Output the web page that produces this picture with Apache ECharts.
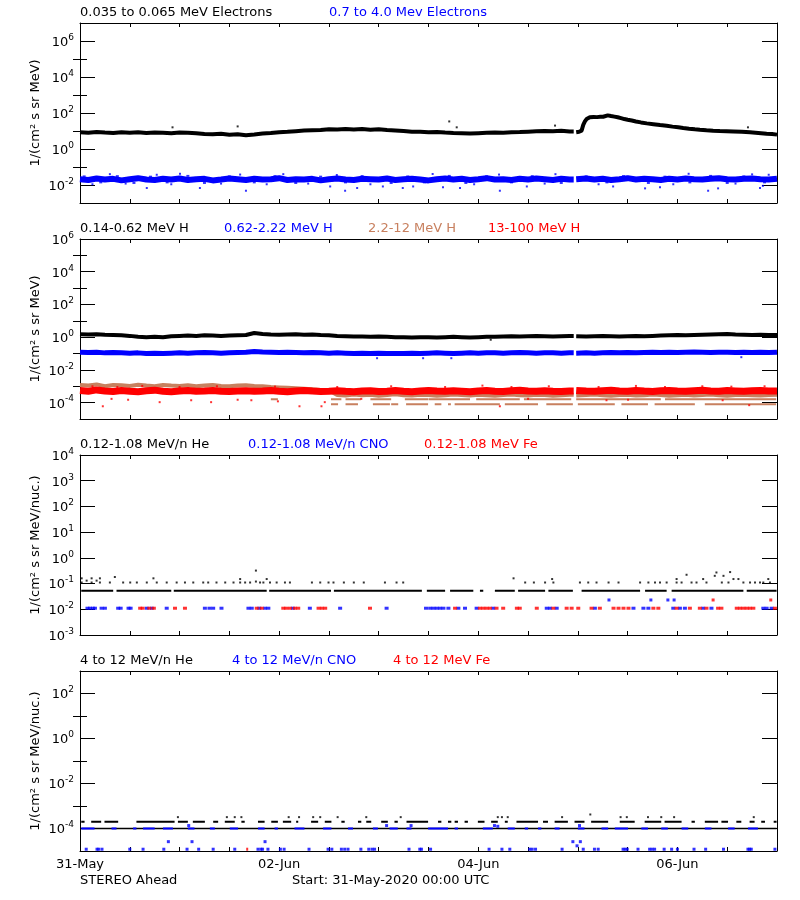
<!DOCTYPE html>
<html><head><meta charset="utf-8">
<script src="https://cdn.jsdelivr.net/npm/echarts@6/dist/echarts.min.js"></script>
<style>html,body{margin:0;padding:0;background:#fff}#c{width:800px;height:900px}</style>
</head><body><div id="c"></div><script>
// ---------------- DATA (time in hours since 31-May-2020 00:00 UTC) ----------------
const xLabelHours = [0, 48, 96, 144];
const xLabelText = ['31-May', '02-Jun', '04-Jun', '06-Jun'];
const dataGap = [119.0, 119.6];

// Panel 1: electrons. 2-hourly values up to t=118, then the event (t, value)
const elecLowBase = [8.5,8.0,8.8,8.2,7.8,8.6,8.0,8.4,7.7,8.2,8.0,7.6,8.3,7.9,7.5,
  6.8,6.5,7.0,6.2,6.6,5.8,6.4,
  7.2,7.8,8.5,9.0,9.8,10.5,11.0,
  11.5,12.5,12.0,13.0,12.2,12.8,11.8,12.5,11.5,10.8,
  10.0,9.2,9.0,8.6,8.8,8.2,7.8,7.5,7.2,
  7.6,7.9,8.2,8.0,8.5,8.8,9.2,9.6,10.0,9.8,10.2,9.5];
const elecLowEvent = [[119.7,8.5],[120.3,9],[120.9,10.5],[121.3,22],[121.7,34],[122.1,46],[122.9,58],[123.8,60],[124.6,59],
  [125.4,61],[126.1,62],[126.5,78],[127.2,74],[128.0,68],[128.8,63],[129.6,58],[130.4,52],[131.2,46],[132.0,42],[133.0,38],
  [134.0,34],[135.2,30],[136.6,26.5],[138.2,24],[139.8,21.5],[141.4,19.7],[142.8,17.5],[144.2,16],[145.4,14.7],[146.8,13.5],
  [148.2,12.5],[149.4,11.8],[151,11],[152.6,10.4],[154.2,10],[155.8,9.8],[157.5,9.5],[159.5,9],[161.5,8.4],[163.5,7.8],
  [165.5,7.1],[166.8,6.8],[168,6.3]];
const elecLowOut = [[22.3,16],[38,18],[89,34],[90.8,16],[114.5,20],[161,16]];
const elecHigh = [0.021,0.019,0.023,0.020,0.022,0.018,0.021,0.024,0.020,0.019,
  0.022,0.020,0.023,0.019,0.021,0.022,0.018,0.020,0.023,0.021,
  0.019,0.022,0.020,0.021,0.024,0.019,0.021,0.020,0.022,0.018,
  0.021,0.023,0.020,0.019,0.022,0.021,0.020,0.023,0.019,0.021,
  0.022,0.020,0.018,0.021,0.023,0.020,0.022,0.019,0.021,0.024,
  0.020,0.021,0.019,0.022,0.020,0.023,0.021,0.019,0.022,0.020,
  0.021,0.023,0.020,0.022,0.019,0.021,0.024,0.020,0.022,0.021,
  0.019,0.022,0.020,0.023,0.021,0.020,0.022,0.024,0.021,0.020,
  0.022,0.023,0.021,0.020,0.022];
const elecHighEdge = [[1,0.03],[5,0.014],[9,0.031],[13,0.013],[17,0.029],[21,0.014],[26,0.032],[30,0.013],[36,0.03],[42,0.014],
  [47,0.031],[52,0.013],[58,0.029],[64,0.014],[68,0.031],[75,0.013],[79,0.03],[83,0.014],[89,0.032],[93,0.013],[98,0.03],
  [104,0.014],[109,0.031],[116,0.013],[122,0.03],[127,0.014],[131,0.031],[137,0.013],[141,0.029],[147,0.014],[152,0.032],
  [156,0.013],[160,0.03],[165,0.014]];
const elecHighLow = [[3,0.011],[11,0.012],[16.1,0.0068],[22,0.011],[28.9,0.0068],[34,0.012],[40,0.0048],[45,0.011],[55,0.012],
  [60.3,0.0083],[63.9,0.0048],[66.8,0.0068],[70,0.011],[73,0.0083],[77.8,0.0068],[80.3,0.0083],[87.5,0.0075],[91.6,0.0068],
  [95,0.011],[101.2,0.0048],[107.7,0.0083],[112,0.012],[125,0.011],[128.5,0.0083],[136.2,0.0065],[139.8,0.0075],[143,0.011],
  [151.4,0.0048],[153.8,0.0065],[158,0.012],[163.9,0.0068],[164.6,0.009]];
const elecHighUp = [[7.2,0.04],[18.5,0.037],[24.1,0.042],[38.6,0.038],[49,0.04],[61.9,0.036],[85,0.041],[101,0.038],
  [114.6,0.04],[146.7,0.042],[162,0.039],[166,0.037]];

// Panel 2: protons (2-hourly)
const hA = [1.5,1.45,1.5,1.4,1.35,1.3,1.2,
  1.05,1.0,1.05,1.0,
  1.15,1.2,1.25,1.2,1.3,1.25,1.2,1.25,1.3,1.35,
  1.8,1.55,
  1.45,1.4,1.45,1.5,1.4,1.45,1.35,1.3,
  1.2,1.15,1.1,1.1,1.05,1.1,1.05,1.0,
  1.0,0.95,1.0,1.0,0.95,1.0,1.05,1.0,0.95,1.0,1.05,1.05,
  1.1,1.15,1.1,1.15,1.2,1.15,1.1,1.15,1.2,
  1.15,1.1,1.15,1.2,1.15,1.1,1.15,1.2,1.15,1.2,1.25,
  1.3,1.35,1.3,1.35,1.4,1.45,1.5,1.55,1.45,1.4,1.35,1.4,1.35,1.35];
const hB = [0.12,0.115,0.12,0.11,0.115,0.11,0.105,0.11,0.1,0.105,0.1,
  0.105,0.11,0.105,0.11,0.115,0.11,0.105,0.11,0.115,0.12,
  0.135,0.125,
  0.12,0.115,0.12,0.115,0.11,0.115,0.11,0.105,0.11,0.105,0.1,0.105,0.1,0.105,0.1,0.1,
  0.1,0.105,0.1,0.105,0.11,0.105,0.1,0.105,0.11,0.105,0.11,0.11,0.105,0.11,0.115,0.11,0.105,0.11,0.11,0.105,0.11,
  0.105,0.11,0.105,0.11,0.115,0.11,0.115,0.11,0.115,0.12,0.115,0.12,0.115,0.12,0.125,0.12,0.115,0.12,0.12,0.115,0.12,0.115,0.12,0.115,0.12];
const hBOut = [[71.6,0.052],[82.7,0.052],[89.5,0.052],[159.4,0.06]];
const hAOut = [[99,0.7]];
const hC = [1.2e-3,1.1e-3,1.3e-3,1.0e-3,1.2e-3,1.15e-3,1.05e-3,1.25e-3,1.1e-3,1.0e-3,
  1.2e-3,1.1e-3,1.05e-3,1.15e-3,1.0e-3,1.1e-3,1.2e-3,1.05e-3,1.0e-3,1.1e-3,1.15e-3,1.05e-3,1.0e-3,
  9e-4,8.5e-4,8e-4,7.5e-4,7e-4,6.5e-4,6e-4,5.5e-4,
  2.9e-4,2.7e-4,3.1e-4,2.8e-4,3.0e-4,2.6e-4,2.9e-4,3.2e-4,2.8e-4,2.7e-4,
  3.0e-4,2.9e-4,2.6e-4,2.8e-4,3.1e-4,2.9e-4,2.7e-4,3.0e-4,2.8e-4,2.6e-4,
  2.9e-4,3.1e-4,2.8e-4,2.7e-4,3.0e-4,2.9e-4,2.6e-4,2.8e-4,3.0e-4,2.7e-4,
  2.9e-4,3.1e-4,2.8e-4,2.6e-4,2.9e-4,3.0e-4,2.7e-4,2.8e-4,3.1e-4,2.9e-4,
  2.6e-4,2.8e-4,3.0e-4,2.7e-4,2.9e-4,3.1e-4,2.8e-4,2.6e-4,2.9e-4,3.0e-4,
  2.8e-4,2.7e-4,2.9e-4,3.0e-4];
const hCMidLevel = 1.6e-4;
const hCMidSegs = [[46,47.7],[60.5,63],[64,67.7],[70,75],[78.3,83.9],[84,94],[95.5,106],[107,118.4],[119.6,140],[141,167.8]];
const hCLowLevel = 8e-5;
const hCLowSegs = [[60.5,62.2],[64,67],[70.6,74.7],[75,76.7],[78.6,83.9],[85.5,87.1],[88.7,89.4],[90.3,101.2],[102.4,110.4],
  [112.4,118.8],[120,128.9],[130.5,136.9],[138.5,148.2],[150.6,167.8]];
const hD = [5.5e-4,5.0e-4,6.0e-4,5.2e-4,4.8e-4,5.5e-4,5.0e-4,4.6e-4,5.3e-4,5.8e-4,
  5.0e-4,4.7e-4,5.2e-4,5.5e-4,4.9e-4,5.1e-4,5.6e-4,5.0e-4,4.8e-4,5.2e-4,
  5.4e-4,4.9e-4,5.1e-4,5.5e-4,5.0e-4,4.7e-4,5.2e-4,5.6e-4,5.1e-4,4.8e-4,
  5.0e-4,5.4e-4,4.9e-4,4.6e-4,5.1e-4,5.3e-4,4.8e-4,5.0e-4,5.5e-4,5.0e-4,
  4.7e-4,5.2e-4,5.6e-4,5.1e-4,4.9e-4,5.3e-4,5.0e-4,4.6e-4,5.2e-4,5.5e-4,
  5.0e-4,4.8e-4,5.3e-4,5.7e-4,5.1e-4,4.9e-4,5.4e-4,5.0e-4,4.8e-4,5.2e-4,
  5.6e-4,5.1e-4,4.9e-4,5.4e-4,5.8e-4,5.2e-4,5.0e-4,5.5e-4,5.1e-4,4.8e-4,
  5.3e-4,5.6e-4,5.2e-4,4.9e-4,5.4e-4,5.7e-4,5.1e-4,5.0e-4,5.5e-4,5.2e-4,
  4.9e-4,5.3e-4,5.6e-4,5.1e-4,5.2e-4];
const hDLow = [[5.5,6e-5],[7.6,1.7e-4],[11.6,1.5e-4],[19.2,1.07e-4],[26.8,1.4e-4],[31.6,1.07e-4],[38,1.5e-4],[41.3,1.4e-4],
  [47.7,1.2e-4],[52.9,6e-5],[58.2,6e-5],[59,1.07e-4],[67.8,1.7e-4],[101.2,6e-5],[108,1.7e-4],[126.9,1.4e-4],[132.1,1.5e-4],
  [154.9,1.4e-4],[161.3,7e-5]];
const hDUp = [[3,1e-3],[9,9e-4],[15,1.05e-3],[24,9e-4],[33,1e-3],[47,9.5e-4],[62,9e-4],[75,1e-3],[88,9e-4],[97,1.1e-3],
  [104,9e-4],[113,1e-3],[125,9e-4],[134,1.05e-3],[141,9e-4],[150,1e-3],[157,9.5e-4],[165,1e-3]];

// Panel 3: 0.12-1.08 MeV/n heavy ions
const he3Level = 0.053;
const he3Segs = [[0.3,8],[8.8,22],[22.6,45],[45.6,60.5],[61.2,82.4],[83.6,88],[89.2,94.8],[96.4,97.2],[100,104.8],
  [105.6,112.1],[112.9,118.8],[120.9,135],[136.2,141.4],[142.6,159.9],[160.7,167.9]];
const he3Dots = [[0.4,0.11],[0.4,0.16],[1.6,0.13],[2.8,0.16],[2.8,0.11],[4.0,0.13],[4.8,0.16],[4.8,0.11],[7.2,0.11],[8.4,0.18],
  [10.4,0.11],[12.1,0.11],[13.7,0.11],[16.1,0.11],[17.7,0.16],[18.5,0.11],[20.9,0.11],[23.3,0.11],[25.3,0.11],[27.3,0.11],
  [29.7,0.11],[30.9,0.11],[32.9,0.11],[35.0,0.11],[37.0,0.11],[38.6,0.11],[38.6,0.15],[39.8,0.11],[41.0,0.11],[42.4,0.32],
  [42.4,0.12],[43.4,0.11],[44.2,0.11],[45.0,0.15],[45.8,0.11],[47.4,0.11],[49.4,0.11],[50.6,0.11],[55.9,0.11],[57.9,0.11],
  [59.9,0.11],[61.1,0.11],[63.6,0.11],[66.0,0.11],[68.4,0.11],[73.5,0.11],[76.3,0.11],[77.9,0.11],[104.5,0.16],[107.3,0.11],
  [109.4,0.11],[112.1,0.11],[113.8,0.15],[114.1,0.11],[120.5,0.11],[122.5,0.11],[124.5,0.11],[127.4,0.11],[129.8,0.11],
  [135.0,0.11],[137.0,0.11],[138.6,0.11],[139.8,0.11],[141.4,0.11],[143.8,0.15],[143.8,0.11],[145.0,0.11],[146.2,0.22],
  [147.4,0.11],[148.6,0.11],[150.2,0.15],[151.0,0.11],[153.0,0.2],[153.4,0.27],[154.7,0.11],[155.1,0.2],[156.3,0.11],
  [156.7,0.28],[157.5,0.15],[158.7,0.15],[159.9,0.11],[161.5,0.11],[162.7,0.11],[163.9,0.11],[164.7,0.11],[165.9,0.15],[166.3,0.11]];
const cno3Level = 0.011;
const cno3Times = [1.8,2.4,3.1,3.6,5.2,6.0,9.2,9.8,11.7,12.2,16.1,17.3,20.9,30.1,31.2,32.1,34.1,40.6,41.4,43.2,44.6,45.4,51.3,
  55.4,62.7,73.9,83.4,84.4,85.2,86.0,86.8,87.6,88.8,91.2,92.8,95.6,99.6,112.5,113.3,114.9,124.1,133.4,135.8,137.0,143.0,
  144.6,145.8,150.2,152.2,164.7,165.5,166.7];
const cno3Up = [[127.5,0.023],[137.6,0.023],[141.7,0.023],[143.2,0.023]];
const fe3Level = 0.011;
const fe3Times = [14.5,15.1,16.7,17.8,22.9,25.3,42.6,43.8,49.0,49.7,50.6,51.8,52.6,57.5,58.3,59.1,69.9,90.4,96.4,97.2,98.0,
  98.8,100.4,102.0,105.3,106.0,110.1,114.1,117.3,118.5,120.1,123.3,125.3,128.6,129.8,131.0,132.2,138.2,139.4,143.8,147.0,
  149.4,151.0,153.8,154.6,158.3,159.1,159.9,160.7,161.5,162.3,167.5];
const fe3Up = [[152.6,0.023],[166.5,0.023]];

// Panel 4: 4-12 MeV/n heavy ions
const he4FloorLevel = 1e-4;
const he4FloorSegs = [[0.3,167.9]];
const he4Level = 2e-4;
const he4Segs = [[0.3,1.1],[2.7,5.1],[5.9,9.2],[13.6,22.8],[23.6,26.0],[27.2,30.1],[32.1,33.3],[34.9,37.3],[38.9,39.7],
  [42.9,44.5],[46.1,47.7],[48.9,50.9],[52.1,52.6],[55.7,57.4],[59.0,60.6],[63.0,63.8],[67.0,67.8],[69.0,70.2],[72.6,74.2],
  [75.8,76.6],[78.7,83.9],[86.3,87.1],[88.7,89.5],[90.3,91.1],[92.7,93.5],[95.9,97.5],[99.1,100.7],[102.4,103.1],
  [105.2,110.4],[111.6,112.8],[114.4,117.6],[119.2,121.6],[123.2,127.3],[130.1,133.7],[136.1,140.1],[140.9,145.0],
  [147.4,148.2],[150.6,153.8],[154.6,156.2],[158.2,159.4],[161.4,162.6],[164.2,165.1],[167.2,167.9]];
const he4Dots = [[23.6,3.2e-4],[35.4,3.2e-4],[37.3,3.2e-4],[38.9,3.2e-4],[50.3,3.2e-4],[52.8,3.2e-4],[56.2,3.2e-4],
  [57.9,3.2e-4],[62.1,3.2e-4],[69.0,3.2e-4],[77.3,3.2e-4],[100.7,3.2e-4],[101.7,3.2e-4],[103.1,3.2e-4],[116.2,3.2e-4],
  [123.0,4.2e-4],[130.3,3.2e-4],[131.8,3.2e-4],[136.9,3.2e-4],[140.1,3.2e-4],[143.2,3.2e-4],[162.4,3.2e-4]];
const cno4Level = 1e-4;
const cno4Segs = [[0.3,3.5],[7.6,8.8],[12.8,13.6],[15.2,18.0],[20.0,22.4],[26.0,27.6],[31.3,32.5],[36.1,38.1],[42.9,44.5],
  [46.9,47.7],[51.7,54.1],[58.6,60.6],[64.6,65.8],[70.6,71.8],[74.6,76.6],[78.7,79.9],[83.9,88.7],[90.3,91.1],[97.1,99.5],
  [103.1,104.8],[107.2,108.0],[110.4,111.2],[114.4,115.6],[120.0,121.6],[125.7,127.3],[128.9,132.1],[135.3,136.9],
  [140.1,141.7],[145.0,146.6],[150.6,152.2],[156.2,157.8],[161.0,163.4]];
const cno4Low = [1.5,4.1,4.5,5.3,12.0,15.2,20.2,25.8,28.6,32.1,37.3,42.9,43.6,44.0,45.3,48.3,49.2,55.2,59.8,60.7,63.0,63.8,
  64.6,67.7,69.6,70.4,71.0,79.3,81.9,82.3,84.5,98.6,101.7,103.6,108.4,109.0,109.8,116.2,121.3,124.0,124.9,130.9,131.4,
  131.9,134.5,137.3,137.9,138.5,140.8,142.6,144.0,148.0,150.8,155.1,161.0,161.4,161.8,167.5];
const cno4LowLevel = 1.2e-5;
const cno4Other = [[21.3,2.6e-5],[27.0,2.6e-5],[44.6,2.6e-5],[118.8,2.6e-5],[120.6,2.6e-5],[119.8,1.7e-5],
  [26.2,1.35e-4],[73.9,1.35e-4],[79.8,1.35e-4],[99.9,1.35e-4],[100.7,1.25e-4],[120.4,1.35e-4]];
const fe4Pts = [[40.3,1.2e-5]];

// ---------------- helpers ----------------
const F = 'DejaVu Sans';
const BROWN = '#c8805f';
const grid2h = vals => vals.map((v, i) => [2 * i, v]);
function withGap(pairs, g) {
  const out = []; let done = false;
  for (const p of pairs) {
    if (!done && p[0] > g[0]) {
      const prev = out[out.length - 1];
      out.push([g[0], prev[1]], [g[0], '-'], [g[1], p[1]]);
      done = true;
    }
    out.push(p);
  }
  return out;
}
function segs(list, v) { const out = []; list.forEach(s => out.push([s[0], v], [s[1], v], [s[1], '-'])); return out; }
const at = (ts, v) => ts.map(t => [t, v]);

function L(gi, data, color, width, z) {
  return {type: 'line', xAxisIndex: 2 * gi, yAxisIndex: 4 * gi, data, symbol: 'none', showSymbol: false,
    lineStyle: {color, width}, itemStyle: {color}, z: z || 2, silent: true, connectNulls: false};
}
function S(gi, data, color, size, z) {
  return {type: 'scatter', xAxisIndex: 2 * gi, yAxisIndex: 4 * gi, data, symbol: 'rect', symbolSize: size,
    itemStyle: {color}, z: z || 3, silent: true};
}

// axes
const rich = {b: {fontSize: 13, fontFamily: F, color: '#000', verticalAlign: 'bottom'},
  s: {fontSize: 9, fontFamily: F, color: '#000', verticalAlign: 'bottom', padding: [0, 0, 7, 0]}};
const powFmt = v => '{b|10}{s|' + Math.round(Math.log10(v)) + '}';
function yAxesFor(gi, min, max, major, minor, labeled, name) {
  const base = {gridIndex: gi, type: 'log', logBase: 10, min, max, splitLine: {show: false},
    axisLine: {show: true, onZero: false, lineStyle: {color: '#000', width: 1}}};
  const tk = (len, vals) => ({show: vals.length > 0, inside: true, length: len, customValues: vals, lineStyle: {color: '#000', width: 1}});
  return [
    Object.assign({}, base, {position: 'left', name, nameLocation: 'middle', nameGap: 38, nameRotate: 90,
      nameMoveOverlap: false,
      nameTextStyle: {fontSize: 13, fontFamily: F, color: '#000'},
      axisTick: tk(15, major), axisLabel: {show: true, customValues: labeled, formatter: powFmt, rich, margin: 6}}),
    Object.assign({}, base, {position: 'left', axisLine: {show: false}, axisTick: tk(7, minor), axisLabel: {show: false}}),
    Object.assign({}, base, {position: 'right', axisTick: tk(15, major), axisLabel: {show: false}}),
    Object.assign({}, base, {position: 'right', axisLine: {show: false}, axisTick: tk(7, minor), axisLabel: {show: false}})
  ];
}
function xAxesFor(gi, showLabels) {
  const base = {gridIndex: gi, type: 'value', min: 0, max: 168, interval: 12, splitLine: {show: false},
    axisLine: {onZero: false, lineStyle: {color: '#000', width: 1}},
    axisTick: {inside: true, length: 4, lineStyle: {color: '#000', width: 1}}};
  return [
    Object.assign({}, base, {position: 'bottom', axisLabel: showLabels ? {show: true, customValues: xLabelHours,
      formatter: v => xLabelText[xLabelHours.indexOf(v)] || '', margin: 7, fontSize: 13, fontFamily: F, color: '#000'} : {show: false}}),
    Object.assign({}, base, {position: 'top', axisLabel: {show: false}})
  ];
}

const tops = [23, 239, 455, 671];
const unitE = '1/(cm² s sr MeV)';
const unitN = '1/(cm² s sr MeV/nuc.)';
const yAxis = [].concat(
  yAxesFor(0, 1e-3, 1e7, [1e-2, 1, 1e2, 1e4, 1e6], [1e-1, 1e1, 1e3, 1e5], [1e-2, 1, 1e2, 1e4, 1e6], unitE),
  yAxesFor(1, 1e-5, 1e6, [1e-4, 1e-2, 1, 1e2, 1e4, 1e6], [1e-3, 1e-1, 1e1, 1e3, 1e5], [1e-4, 1e-2, 1, 1e2, 1e4, 1e6], unitE),
  yAxesFor(2, 1e-3, 1e4, [1e-2, 1e-1, 1, 1e1, 1e2, 1e3], [], [1e-3, 1e-2, 1e-1, 1, 1e1, 1e2, 1e3, 1e4], unitN),
  yAxesFor(3, 1e-5, 1e3, [1e-4, 1e-2, 1, 1e2], [1e-3, 1e-1, 1e1], [1e-4, 1e-2, 1, 1e2], unitN)
);
const xAxis = [].concat(xAxesFor(0, false), xAxesFor(1, false), xAxesFor(2, false), xAxesFor(3, true));

const titleTexts = [
  [80, 6, '0.035 to 0.065 MeV Electrons', '#000'], [329, 6, '0.7 to 4.0 Mev Electrons', '#0000ff'],
  [80, 222, '0.14-0.62 MeV H', '#000'], [224, 222, '0.62-2.22 MeV H', '#0000ff'], [368, 222, '2.2-12 MeV H', BROWN], [488, 222, '13-100 MeV H', '#ff0000'],
  [80, 438, '0.12-1.08 MeV/n He', '#000'], [248, 438, '0.12-1.08 MeV/n CNO', '#0000ff'], [424, 438, '0.12-1.08 MeV Fe', '#ff0000'],
  [80, 654, '4 to 12 MeV/n He', '#000'], [232, 654, '4 to 12 MeV/n CNO', '#0000ff'], [393, 654, '4 to 12 MeV Fe', '#ff0000'],
  [80, 874, 'STEREO Ahead', '#000'], [292, 874, 'Start: 31-May-2020 00:00 UTC', '#000']
];

const series = [
  // panel 1
  L(0, withGap(grid2h(elecLowBase).concat(elecLowEvent), dataGap), '#000', 4),
  S(0, elecLowOut, '#000', [2, 2]),
  L(0, withGap(grid2h(elecHigh), dataGap), '#0000ff', 6),
  S(0, elecHighEdge, '#0000ff', [3, 2]),
  S(0, elecHighLow, '#0000ff', [2, 2]),
  S(0, elecHighUp, '#0000ff', [2, 2]),
  // panel 2
  L(1, withGap(grid2h(hA), dataGap), '#000', 4),
  S(1, hAOut, '#000', [2, 2]),
  L(1, withGap(grid2h(hB), dataGap), '#0000ff', 5),
  S(1, hBOut, '#0000ff', [2, 2]),
  L(1, withGap(grid2h(hC), dataGap), BROWN, 4),
  L(1, segs(hCMidSegs, hCMidLevel), BROWN, 2),
  L(1, segs(hCLowSegs, hCLowLevel), BROWN, 2),
  L(1, withGap(grid2h(hD), dataGap), '#ff0000', 7, 4),
  S(1, hDLow, '#ff0000', [2, 2], 5),
  S(1, hDUp, '#ff0000', [2, 2], 5),
  // panel 3
  L(2, segs(he3Segs, he3Level), '#000', 2),
  S(2, he3Dots, '#000', [2, 2]),
  S(2, at(cno3Times, cno3Level), '#0000ff', [4, 3]),
  S(2, cno3Up, '#0000ff', [3, 3]),
  S(2, at(fe3Times, fe3Level), '#ff0000', [4, 3], 4),
  S(2, fe3Up, '#ff0000', [3, 3], 4),
  // panel 4
  L(3, segs(he4FloorSegs, he4FloorLevel), '#000', 1.5),
  L(3, segs(he4Segs, he4Level), '#000', 2),
  S(3, he4Dots, '#000', [2, 2]),
  L(3, segs(cno4Segs, cno4Level), '#0000ff', 2, 4),
  S(3, at(cno4Low, cno4LowLevel), '#0000ff', [3, 3], 4),
  S(3, cno4Other, '#0000ff', [3, 3], 4),
  S(3, fe4Pts, '#ff0000', [2, 3], 5)
];

const chart = echarts.init(document.getElementById('c'), null, {renderer: 'canvas'});
chart.setOption({
  animation: false,
  backgroundColor: '#fff',
  textStyle: {fontFamily: F},
  title: titleTexts.map(t => ({text: t[2], left: t[0], top: t[1], padding: 0,
    textStyle: {fontSize: 13, fontWeight: 'normal', color: t[3], fontFamily: F}})),
  grid: tops.map(top => ({left: 80, right: 23, top, height: 180, containLabel: false})),
  xAxis, yAxis, series
});
</script></body></html>
